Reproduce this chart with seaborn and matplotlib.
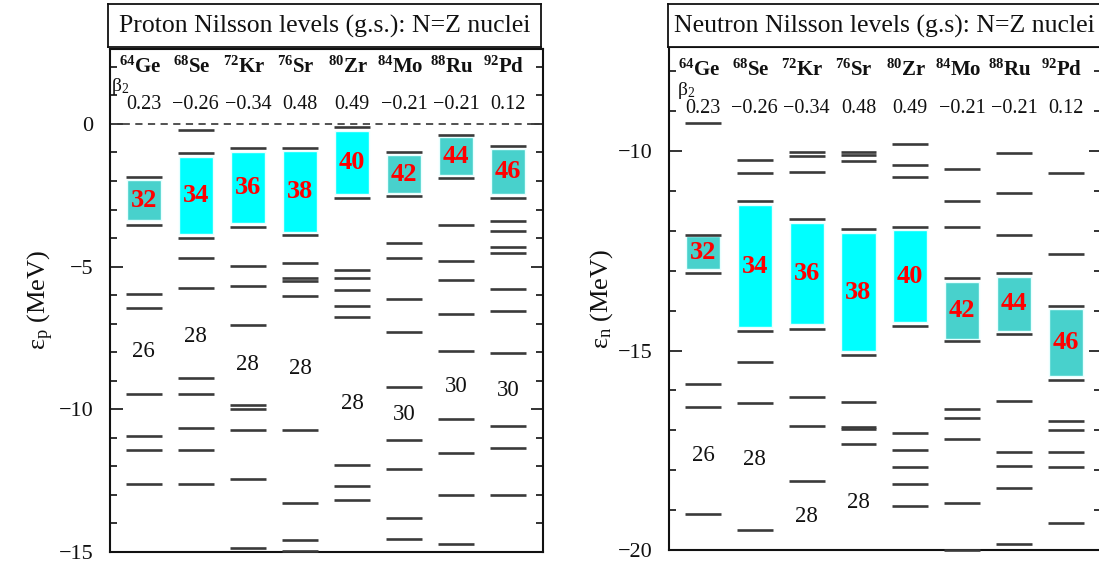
import numpy as np
import pandas as pd
import matplotlib
matplotlib.use("Agg")
import matplotlib.pyplot as plt
from matplotlib.ticker import MultipleLocator
import seaborn as sns

# ---------------- data ----------------
nuclei = ["Ge", "Se", "Kr", "Sr", "Zr", "Mo", "Ru", "Pd"]
masses = [64, 68, 72, 76, 80, 84, 88, 92]
beta2 = ["0.23", "\u22120.26", "\u22120.34", "0.48", "0.49", "\u22120.21", "\u22120.21", "0.12"]

gap_labels = ["32", "34", "36", "38", "40", "42", "44", "46"]
gap_colors = ["#48D1CC", "#00FFFF", "#00FFFF", "#00FFFF", "#00FFFF", "#48D1CC", "#48D1CC", "#48D1CC"]

proton_levels = [
    [-1.85, -3.55, -5.97, -6.47, -9.48, -10.94, -11.42, -12.64],
    [-0.20, -1.03, -3.99, -4.71, -5.74, -8.90, -9.48, -10.65, -11.42, -12.64],
    [-0.83, -3.60, -4.97, -5.68, -7.05, -9.87, -10.01, -10.73, -12.44, -14.88],
    [-0.83, -3.89, -4.86, -5.40, -5.51, -6.02, -10.73, -13.28, -14.59, -14.96],
    [-0.09, -2.58, -5.11, -5.40, -5.83, -6.37, -6.76, -11.96, -12.69, -13.18],
    [-0.98, -2.53, -4.16, -4.71, -6.14, -7.29, -9.24, -11.08, -12.10, -13.81, -14.55],
    [-0.39, -1.90, -3.55, -4.81, -5.46, -6.66, -7.97, -10.36, -11.53, -13.02, -14.73],
    [-0.77, -2.58, -3.40, -3.74, -4.33, -4.52, -5.80, -6.57, -8.02, -10.60, -11.38, -13.02],
]
proton_gap_top = [-1.98, -1.15, -0.99, -0.96, -0.23, -1.10, -0.47, -0.87]
proton_gap_bottom = [-3.38, -3.87, -3.48, -3.78, -2.46, -2.41, -1.78, -2.46]
proton_magic = ["26", "28", "28", "28", "28", "30", "30", "30"]
proton_magic_e = [-7.99, -7.46, -8.45, -8.57, -9.80, -10.20, -9.19, -9.33]

neutron_levels = [
    [-9.29, -12.10, -13.06, -15.83, -16.41, -19.10],
    [-10.23, -10.56, -11.24, -14.50, -15.29, -16.32, -19.50],
    [-10.03, -10.12, -10.53, -11.69, -14.46, -16.17, -16.90, -18.27],
    [-10.03, -10.09, -10.25, -11.96, -15.10, -16.30, -16.91, -16.96, -17.34],
    [-9.83, -10.35, -10.64, -11.89, -14.38, -17.06, -17.49, -17.91, -18.35, -18.89],
    [-10.46, -11.24, -11.91, -13.18, -14.77, -16.46, -16.69, -17.21, -18.81, -20.00],
    [-10.04, -11.05, -12.10, -13.06, -14.59, -16.27, -17.55, -17.89, -18.45, -19.86],
    [-10.56, -12.59, -13.88, -15.73, -16.76, -16.98, -17.55, -17.91, -19.32],
]
neutron_gap_top = [-12.13, -11.36, -11.80, -12.06, -11.98, -13.28, -13.15, -13.95]
neutron_gap_bottom = [-12.96, -14.41, -14.34, -15.01, -14.29, -14.71, -14.50, -15.63]
neutron_magic = ["26", "28", "28", "28", "", "", "", ""]
neutron_magic_e = [-17.64, -17.74, -19.15, -18.82, np.nan, np.nan, np.nan, np.nan]

# ---------------- style ----------------
sns.set_theme(style="ticks")
plt.rcParams['font.family'] = ['Liberation Serif', 'DejaVu Serif']
plt.rcParams['mathtext.fontset'] = 'custom'
plt.rcParams['mathtext.rm'] = 'Liberation Serif'
plt.rcParams['mathtext.it'] = 'Liberation Serif:italic'
plt.rcParams['mathtext.bf'] = 'Liberation Serif:bold'
plt.rcParams['axes.unicode_minus'] = True

W, H = 1099, 565
fig = plt.figure(figsize=(W / 100, H / 100), dpi=100)

LINE_C = "#3a3a3a"
TXT_C = "#111111"
xpos = np.arange(len(nuclei))


def panel(rect, title_rect, title, levels, gtop, gbot, magic, magic_e,
          ylim, ylabel, hdr_e, val_e, beta_xy, zero_line):
    ax = fig.add_axes(rect)
    df = pd.DataFrame([(i, e) for i, lv in enumerate(levels) for e in lv],
                      columns=["x", "E"])
    ax.hlines(df["E"], df["x"] - 0.345, df["x"] + 0.345, color=LINE_C,
              lw=1.9, zorder=3, clip_on=False)
    heights = np.array(gtop) - np.array(gbot)
    ax.bar(xpos, heights, bottom=gbot, width=0.66, color=gap_colors,
           edgecolor="#e8ffff", linewidth=1.0, zorder=2)
    for i in xpos:
        ax.text(i, (gtop[i] + gbot[i]) / 2, gap_labels[i], color="red",
                fontsize=19, fontweight="bold", ha="center", va="center",
                zorder=4)
        if magic[i]:
            ax.text(i, magic_e[i], magic[i], fontsize=16.5, ha="center",
                    va="center", color=TXT_C)
        ax.text(i - 0.08, hdr_e, r"$^{\mathbf{%d}}\mathbf{%s}$" % (masses[i], nuclei[i]),
                fontsize=15, ha="center", va="center", color=TXT_C)
        ax.text(i, val_e, beta2[i], fontsize=14.5, ha="center", va="center",
                color=TXT_C)
    ax.text(beta_xy[0], beta_xy[1], "\u03b2$_2$", fontsize=14, ha="left",
            va="center", color=TXT_C)
    if zero_line:
        ax.axhline(0, color="#444444", lw=1.3, ls=(0, (4, 3)), zorder=1)
    ax.set_xlim(-0.65, 7.67)
    ax.set_ylim(*ylim)
    ax.yaxis.set_major_locator(MultipleLocator(5))
    ax.yaxis.set_minor_locator(MultipleLocator(1))
    ax.tick_params(which="both", direction="in", left=True, right=True,
                   bottom=False, top=False, labelbottom=False,
                   labelsize=16, width=1.2, colors=TXT_C)
    ax.tick_params(which="major", length=9, pad=12)
    ax.tick_params(which="minor", length=5)
    for s in ax.spines.values():
        s.set_linewidth(1.5)
        s.set_color(TXT_C)
    ax.set_xticks([])
    ax.set_ylabel(ylabel, fontsize=19, labelpad=2, color=TXT_C)

    tax = fig.add_axes(title_rect)
    tax.set_xticks([])
    tax.set_yticks([])
    for s in tax.spines.values():
        s.set_linewidth(1.3)
        s.set_color(TXT_C)
    tax.text(0.5, 0.47, title, fontsize=18.5, ha="center", va="center",
             transform=tax.transAxes, color=TXT_C)
    return ax


panel([110 / W, 13.3 / H, 433 / W, 503 / H],
      [108.3 / W, (H - 46.7) / H, 432.4 / W, 43 / H],
      "Proton Nilsson levels (g.s.): N=Z nuclei",
      proton_levels, proton_gap_top, proton_gap_bottom,
      proton_magic, proton_magic_e, (-15, 2.64),
      "\u03b5$_\\mathrm{p}$ (MeV)", 1.98, 0.70, (-0.64, 1.30), True)

panel([669.3 / W, 15 / H, 431.2 / W, 503 / H],
      [668 / W, (H - 46.7) / H, 433 / W, 43 / H],
      "Neutron Nilsson levels (g.s): N=Z nuclei",
      neutron_levels, neutron_gap_top, neutron_gap_bottom,
      neutron_magic, neutron_magic_e, (-20, -7.39),
      "\u03b5$_\\mathrm{n}$ (MeV)", -7.96, -8.92, (-0.5, -8.47), False)

fig.savefig("out.png", dpi=100)
